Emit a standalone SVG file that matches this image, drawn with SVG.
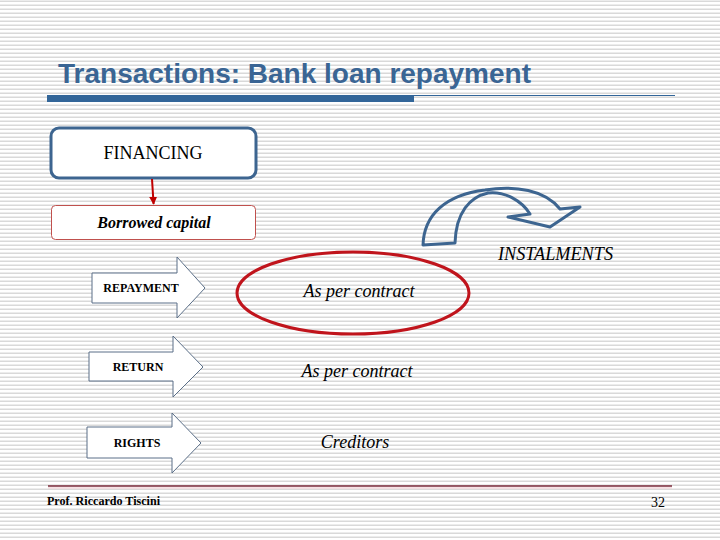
<svg xmlns="http://www.w3.org/2000/svg" width="720" height="540" viewBox="0 0 720 540">
<defs>
<pattern id="stripes" x="0" y="0" width="8" height="4" patternUnits="userSpaceOnUse">
<rect x="0" y="0" width="8" height="4" fill="#ffffff"/>
<rect x="0" y="0.5" width="8" height="1.5" fill="#d9d9d9"/>
</pattern>
<marker id="redhead" viewBox="0 0 10 10" refX="9" refY="5" markerWidth="4" markerHeight="4" orient="auto" markerUnits="strokeWidth">
<path d="M0,0 L10,5 L0,10 Z" fill="#c00000"/>
</marker>
<style>
.title{font-family:"Liberation Sans",Arial,sans-serif;font-weight:bold;font-size:28px;fill:#3a6594}
.serif{font-family:"Liberation Serif","Times New Roman",serif;fill:#000}
.blk{fill:#ffffff;stroke:#5b6f88;stroke-width:1}
.lbl{font-family:"Liberation Serif","Times New Roman",serif;font-weight:bold;font-size:12px;fill:#000;text-anchor:middle}
.val{font-family:"Liberation Serif","Times New Roman",serif;font-style:italic;font-size:18px;fill:#000;text-anchor:middle}
</style>
</defs>
<rect x="0" y="0" width="720" height="540" fill="url(#stripes)"/>

<g id="title">
<text class="title" x="58" y="83" textLength="473" lengthAdjust="spacingAndGlyphs">Transactions: Bank loan repayment</text>
<rect x="47" y="95" width="367" height="7" fill="#336699"/>
<line x1="414" y1="95.5" x2="675" y2="95.5" stroke="#336699" stroke-width="1"/>
</g>

<g id="financing">
<rect x="51" y="128" width="205" height="50" rx="8" ry="8" fill="#ffffff" stroke="#3d6590" stroke-width="3"/>
<text class="serif" x="153" y="159" font-size="18" text-anchor="middle">FINANCING</text>
</g>

<g id="borrowed">
<rect x="51.5" y="205.5" width="204" height="34" rx="4" ry="4" fill="#ffffff" stroke="#c0504d" stroke-width="1"/>
<text class="serif" x="154" y="228" font-size="16" font-style="italic" font-weight="bold" text-anchor="middle">Borrowed capital</text>
</g>

<g id="connectors">
<line x1="152" y1="179" x2="153.6" y2="204" stroke="#c00000" stroke-width="2" marker-end="url(#redhead)"/>
</g>

<g id="instalments">
<path d="M423,245 C424,215 445,195 485,190 C515,185 545,190 560,209 L580,207 L550,227 L508,217 L530,214 C522,201 505,191 488,193 C470,197 456,212 455,243 Z" fill="none" stroke="#3d6590" stroke-width="3" stroke-linejoin="round"/>
<text class="serif" x="498" y="260" font-size="18" font-style="italic" textLength="115" lengthAdjust="spacingAndGlyphs">INSTALMENTS</text>
</g>

<g id="repayment">
<path class="blk" d="M92,273 L177,273 L177,257 L205,288 L177,318 L177,303 L92,303 Z"/>
<text class="lbl" x="141" y="292">REPAYMENT</text>
</g>

<g id="return">
<path class="blk" d="M89,352 L173,352 L173,336 L203,367 L173,397 L173,381 L89,381 Z"/>
<text class="lbl" x="138" y="371">RETURN</text>
</g>

<g id="rights">
<path class="blk" d="M87,427 L172,427 L172,413 L201,443 L172,473 L172,458 L87,458 Z"/>
<text class="lbl" x="137" y="447">RIGHTS</text>
</g>

<g id="contract1">
<ellipse cx="353" cy="293" rx="116" ry="41" fill="none" stroke="#c0141c" stroke-width="3"/>
<text class="val" x="359" y="297">As per contract</text>
</g>

<g id="contract2">
<text class="val" x="357" y="377">As per contract</text>
</g>

<g id="creditors">
<text class="val" x="355" y="448">Creditors</text>
</g>

<g id="footer">
<line x1="48" y1="486" x2="672" y2="486" stroke="#7a2a3a" stroke-width="1.5"/>
<line x1="48" y1="488" x2="672" y2="488" stroke="#f3d9dc" stroke-width="1.5"/>
<text class="serif" x="47" y="505" font-size="13" font-weight="bold" textLength="113" lengthAdjust="spacingAndGlyphs">Prof. Riccardo Tiscini</text>
<text class="serif" x="665" y="507" font-size="14" text-anchor="end">32</text>
</g>
</svg>
